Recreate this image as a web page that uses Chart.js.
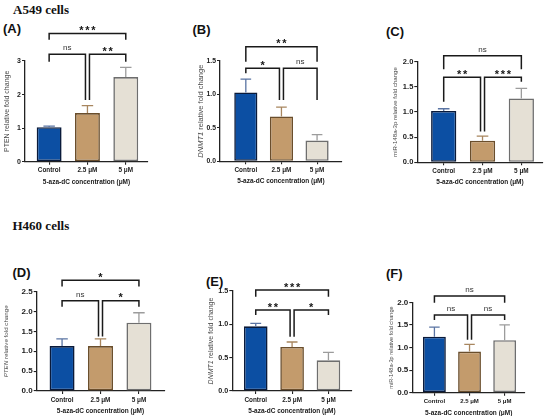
<!DOCTYPE html>
<html><head><meta charset="utf-8">
<script src="https://cdn.jsdelivr.net/npm/chart.js@4.4.1/dist/chart.umd.min.js"></script>
<style>
html,body{margin:0;padding:0;background:#fff;}
body{width:550px;height:416px;position:relative;overflow:hidden;}
.box{position:absolute;}
.lbl{position:absolute;font-family:'Liberation Sans',Arial,sans-serif;font-weight:bold;font-size:13px;color:#111;transform:translateY(-50%);line-height:1;white-space:nowrap}
.ttl{position:absolute;font-family:'Liberation Serif','Times New Roman',serif;font-weight:bold;font-size:13px;color:#111;transform:translateY(-50%);line-height:1;white-space:nowrap}
</style></head><body>
<div class="ttl" style="left:13px;top:8.5px">A549 cells</div>
<div class="ttl" style="left:12.5px;top:225px">H460 cells</div>
<div class="lbl" style="left:3px;top:28px">(A)</div>
<div class="lbl" style="left:192.5px;top:29.3px">(B)</div>
<div class="lbl" style="left:386px;top:30.7px">(C)</div>
<div class="lbl" style="left:12.5px;top:271.7px">(D)</div>
<div class="lbl" style="left:206px;top:280.7px">(E)</div>
<div class="lbl" style="left:386px;top:272.7px">(F)</div>
<div id="wA" class="box"><canvas id="cA"></canvas></div>
<div id="wB" class="box"><canvas id="cB"></canvas></div>
<div id="wC" class="box"><canvas id="cC"></canvas></div>
<div id="wD" class="box"><canvas id="cD"></canvas></div>
<div id="wE" class="box"><canvas id="cE"></canvas></div>
<div id="wF" class="box"><canvas id="cF"></canvas></div>
<script>
// ---- data ----
const categories = ['Control', '2.5 μM', '5 μM'];
const xAxisTitle = '5-aza-dC concentration (μM)';

const valuesA = [1.03, 1.45, 2.52];
const errorsA = [0.03, 0.22, 0.29];
const valuesB = [1.03, 0.67, 0.31];
const errorsB = [0.20, 0.14, 0.09];
const valuesC = [1.02, 0.43, 1.27];
const errorsC = [0.045, 0.09, 0.20];
const valuesD = [1.13, 1.13, 1.72];
const errorsD = [0.18, 0.18, 0.25];
const valuesE = [0.97, 0.66, 0.46];
const errorsE = [0.045, 0.075, 0.12];
const valuesF = [1.24, 0.91, 1.16];
const errorsF = [0.21, 0.16, 0.34];

// significance brackets: [from, to, level, legFromEnd, legToEnd, label]
const bracketsA = [[0,2,3.82,3.63,3.63,'***'],[0,1,3.20,2.98,1.84,'ns'],[1,2,3.20,1.84,2.98,'**']];
const bracketsB = [[0,2,1.713,1.489,1.489,'**'],[0,1,1.39,1.315,0.916,'*'],[1,2,1.39,0.916,0.916,'ns']];
const bracketsC = [[0,2,2.12,1.85,1.85,'ns'],[0,1,1.69,1.205,0.61,'**'],[1,2,1.69,0.61,1.60,'***']];
const bracketsD = [[0,2,2.79,2.63,2.63,'*'],[0,1,2.27,2.12,1.37,'ns'],[1,2,2.27,1.37,2.12,'*']];
const bracketsE = [[0,2,1.515,1.415,1.415,'***'],[0,1,1.215,1.14,0.815,'**'],[1,2,1.215,0.815,1.14,'*']];
const bracketsF = [[0,2,2.14,1.99,1.99,'ns'],[0,1,1.72,1.61,1.17,'ns'],[1,2,1.72,1.17,1.61,'ns']];

const yMaxes = [3, 1.5, 2, 2.5, 1.5, 2];
const ySteps = [1, 0.5, 0.5, 0.5, 0.5, 0.5];
const yTitles = ['PTEN relative fold change', 'DNMT1 relative fold change', 'miR-148a-3p relative fold change',
                 'PTEN relative fold change', 'DNMT1 relative fold change', 'miR-148a-3p relative fold change'];
const yTitleItalicChars = [0, 5, 0, 4, 5, 0];

// ---- styles ----
const barFill = ['#0c4fa3', '#c39b6c', '#e5e0d5'];
const barBorder = ['#0a1a3a', '#6a4e2c', '#6e6e6e'];
const errColor = ['#5a74a3', '#a8865f', '#9c9c9c'];
const FONT = "'Liberation Sans', Arial, sans-serif";

// ---- layout (pixel geometry of each panel) ----
const layout = [
  {L:25,    R:148,   T:61,    B:161.7, tX:7,     xmin:-0.63,  xmax:2.58, tickFs:7,   titleFs:7},
  {L:220,   R:342,   T:61,    B:161.3, tX:200.7, xmin:-0.725, xmax:2.70, tickFs:6.8, titleFs:7.5},
  {L:417.3, R:542.7, T:61.7,  B:162.3, tX:395,   xmin:-0.68,  xmax:2.55, tickFs:7.5, titleFs:6.1},
  {L:36.7,  R:164.3, T:291.7, B:391,   tX:6.7,   xmin:-0.66,  xmax:2.66, tickFs:8,   titleFs:6.2},
  {L:232.3, R:351.7, T:291,   B:391,   tX:210.7, xmin:-0.645, xmax:2.64, tickFs:7.2, titleFs:7},
  {L:412.3, R:525,   T:302.3, B:392.7, tX:391.7, xmin:-0.63,  xmax:2.58, tickFs:8,   titleFs:5.6},
];
const panelIds = ['A','B','C','D','E','F'];
const allValues = [valuesA, valuesB, valuesC, valuesD, valuesE, valuesF];
const allErrors = [errorsA, errorsB, errorsC, errorsD, errorsE, errorsF];
const allBrackets = [bracketsA, bracketsB, bracketsC, bracketsD, bracketsE, bracketsF];
const X_H = 24;

const panelPlugin = {
  id: 'panel',
  afterDatasetsDraw(chart) {
    const p = chart.options.plugins.panel;
    const ctx = chart.ctx, ys = chart.scales.y;
    const meta = chart.getDatasetMeta(0);
    meta.data.forEach((bar, i) => {
      const v = p.values[i], e = p.errors[i];
      const x = bar.x, y0 = ys.getPixelForValue(v), y1 = ys.getPixelForValue(v + e);
      const hw = bar.width * 0.23;
      ctx.save();
      ctx.strokeStyle = errColor[i];
      ctx.lineWidth = 1.3;
      ctx.beginPath();
      ctx.moveTo(x, y0); ctx.lineTo(x, y1);
      ctx.moveTo(x - hw, y1); ctx.lineTo(x + hw, y1);
      ctx.stroke();
      ctx.restore();
    });
  },
  afterDraw(chart) {
    const p = chart.options.plugins.panel;
    const ctx = chart.ctx, ys = chart.scales.y, xs = chart.scales.x;
    const area = chart.chartArea;
    p.brackets.forEach(b => {
      const [from, to, level, l1, l2, label] = b;
      let x1 = xs.getPixelForValue(from), x2 = xs.getPixelForValue(to);
      if (from === 1) x1 += 2;
      if (to === 1) x2 -= 2;
      const yl = ys.getPixelForValue(level);
      ctx.save();
      ctx.strokeStyle = '#1a1a1a';
      ctx.lineWidth = 1.5;
      ctx.beginPath();
      ctx.moveTo(x1, ys.getPixelForValue(l1));
      ctx.lineTo(x1, yl);
      ctx.lineTo(x2, yl);
      ctx.lineTo(x2, ys.getPixelForValue(l2));
      ctx.stroke();
      ctx.fillStyle = '#151515';
      ctx.textAlign = 'center';
      ctx.textBaseline = 'alphabetic';
      const cx = (x1 + x2) / 2;
      if (label === 'ns') {
        ctx.font = '8px ' + FONT;
        ctx.fillStyle = '#333';
        ctx.fillText(label, cx, yl - 4);
      } else {
        ctx.font = 'bold 11px ' + FONT;
        const w = 6;
        const n = label.length;
        for (let k = 0; k < n; k++) {
          ctx.fillText('*', cx + (k - (n - 1) / 2) * w, yl + 0.5);
        }
      }
      ctx.restore();
    });
    const txt = p.yTitle, nIt = p.italic, fs = p.titleFs;
    const partA = txt.slice(0, nIt), partB = txt.slice(nIt);
    ctx.save();
    ctx.translate(p.tXLocal, (area.top + area.bottom) / 2);
    ctx.rotate(-Math.PI / 2);
    ctx.fillStyle = '#4a4a4a';
    ctx.textBaseline = 'middle';
    ctx.textAlign = 'left';
    const fA = 'italic ' + fs + 'px ' + FONT, fB = fs + 'px ' + FONT;
    ctx.font = fA; const wA = ctx.measureText(partA).width;
    ctx.font = fB; const wB = ctx.measureText(partB).width;
    let sx = -(wA + wB) / 2;
    ctx.font = fA; ctx.fillText(partA, sx, 0);
    ctx.font = fB; ctx.fillText(partB, sx + wA, 0);
    ctx.restore();
  }
};

panelIds.forEach((id, k) => {
  const g = layout[k];
  const left = Math.round(g.tX - 6);
  const top = Math.round(g.T - 45);
  const right = Math.round(g.R + 5);
  const bottom = Math.round(g.B + X_H + 1);
  const wrap = document.getElementById('w' + id);
  wrap.style.left = left + 'px';
  wrap.style.top = top + 'px';
  wrap.style.width = (right - left) + 'px';
  wrap.style.height = (bottom - top) + 'px';
  const yW = g.L - left;
  const step = ySteps[k];
  new Chart(document.getElementById('c' + id), {
    type: 'bar',
    data: {
      datasets: [{
        data: allValues[k].map((v, i) => ({x: i, y: v})),
        backgroundColor: barFill,
        borderColor: barBorder,
        borderWidth: 1.6,
        borderSkipped: false,
        barPercentage: 0.65,
        categoryPercentage: 1
      }]
    },
    options: {
      responsive: true,
      maintainAspectRatio: false,
      animation: false,
      events: [],
      layout: {padding: {left: 0, top: g.T - top, right: right - g.R, bottom: bottom - (g.B + X_H)}},
      plugins: {
        legend: {display: false},
        tooltip: {enabled: false},
        panel: {values: allValues[k], errors: allErrors[k], brackets: allBrackets[k],
                yTitle: yTitles[k], italic: yTitleItalicChars[k], titleFs: g.titleFs, tXLocal: g.tX - left}
      },
      scales: {
        x: {
          type: 'linear',
          offset: false,
          min: g.xmin, max: g.xmax,
          afterBuildTicks: s => { s.ticks = categories.map((c, i) => ({value: i})); },
          afterFit: s => { s.height = X_H; s.paddingLeft = 0; s.paddingRight = 0; },
          ticks: {
            autoSkip: false, maxRotation: 0, padding: 2,
            callback: v => categories[v],
            color: '#1a1a1a',
            font: {family: FONT, size: k === 5 ? 6 : 6.4, weight: 'bold'}
          },
          grid: {display: true, offset: false, drawOnChartArea: false, drawTicks: true, tickLength: 3, color: '#222', lineWidth: 1.1},
          border: {display: true, color: '#222', width: 1.3},
          title: {display: true, text: xAxisTitle, padding: 0, color: '#1a1a1a',
                  font: {family: FONT, size: 6.5, weight: 'bold'}}
        },
        y: {
          min: 0, max: yMaxes[k],
          afterFit: s => { s.width = yW; s.paddingTop = 0; s.paddingBottom = 0; },
          ticks: {
            stepSize: step, padding: 1, color: '#1a1a1a',
            callback: v => step >= 1 ? String(v) : Number(v).toFixed(1),
            font: {family: FONT, size: g.tickFs, weight: 'bold'}
          },
          grid: {display: true, drawOnChartArea: false, drawTicks: true, tickLength: 3, color: '#222', lineWidth: 1.1},
          border: {display: true, color: '#222', width: 1.3},
          title: {display: false}
        }
      }
    },
    plugins: [panelPlugin]
  });
});
</script>
</body></html>
